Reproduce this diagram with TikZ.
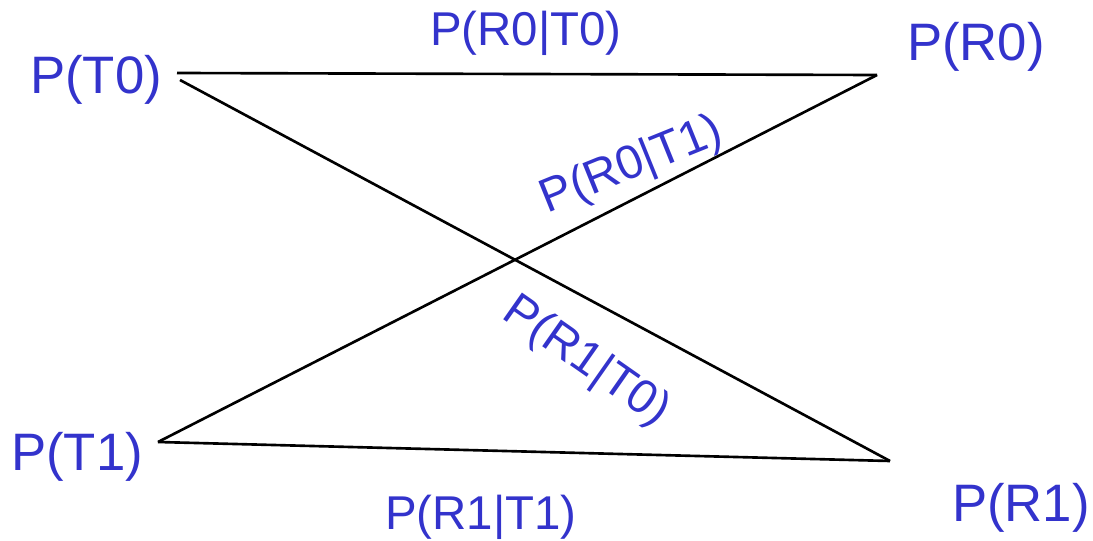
\documentclass[tikz,border=0pt]{standalone}
\usepackage{fontspec}
\setmainfont{Liberation Sans}
\usepackage{tikz}
\usetikzlibrary{positioning}
\definecolor{labelblue}{HTML}{3333CC}

\begin{document}
\begin{tikzpicture}[x=0.02cm,y=-0.02cm,
  state/.style={text=labelblue,inner sep=0pt,font=\fontsize{30}{35}\selectfont},
  prob/.style={text=labelblue,inner sep=0pt,font=\fontsize{27}{32}\selectfont},
  link/.style={draw=black,line width=1.5pt}]
\useasboundingbox (0,0) rectangle (1093,541);
% states
\node[state] (t0) at (96,80) {P(T0)};
\node[state] (r0) at (976,47) {P(R0)};
\node[state] (t1) at (77,457) {P(T1)};
\node[state] (r1) at (1021,508) {P(R1)};
% line ends
\coordinate (t0a) at (177,73);
\coordinate (t0b) at (180,80);
\coordinate (r0e) at (877,75);
\coordinate (t1e) at (158,442);
\coordinate (r1e) at (890,461);
\draw[link] (t0a)--(r0e); \draw[link] (t0b)--(r1e);
\draw[link] (t1e)--(r0e); \draw[link] (t1e)--(r1e);
% transition labels
\node[prob] (r0t0) at (526,33) {P(R0|T0)};
\node[prob,rotate=22] (r0t1) at (632,166) {P(R0|T1)};
\node[prob,rotate=-35] (r1t0) at (586,362) {P(R1|T0)};
\node[prob] (r1t1) at (481,517) {P(R1|T1)};
\end{tikzpicture}
\end{document}
